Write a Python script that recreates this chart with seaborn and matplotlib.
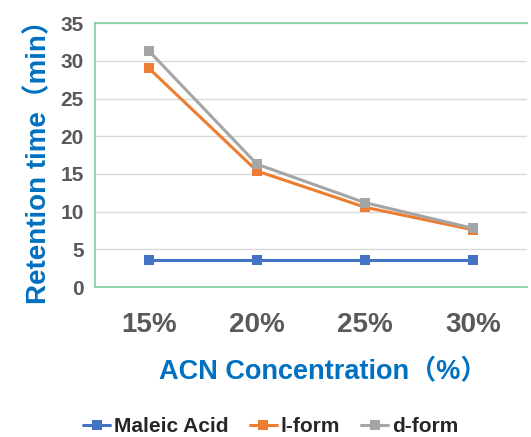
import matplotlib
matplotlib.use('Agg')
import matplotlib.pyplot as plt
import seaborn as sns
import pandas as pd

# data
concentrations = ['15%', '20%', '25%', '30%']
maleic_acid = [3.6, 3.6, 3.6, 3.6]
l_form = [29.0, 15.4, 10.6, 7.6]
d_form = [31.3, 16.3, 11.2, 7.8]
series_names = ['Maleic Acid', 'l-form', 'd-form']
colors = ['#4472C4', '#ED7D31', '#A5A5A5']

df = pd.DataFrame({
    'conc': concentrations * 3,
    'time': maleic_acid + l_form + d_form,
    'series': [s for s in series_names for _ in concentrations],
})

sns.set_style('white')
plt.rcParams['font.family'] = ['Liberation Sans', 'Noto Sans CJK JP', 'DejaVu Sans']

fig = plt.figure(figsize=(5.31, 4.37), dpi=100)
ax = fig.add_axes([0.179, 0.343, 0.813, 0.604])

sns.lineplot(data=df, x='conc', y='time', hue='series', style='series',
             palette=colors, markers=['s', 's', 's'], dashes=False,
             linewidth=2.2, markersize=7, markeredgewidth=0, ax=ax)

ax.set_xlim(-0.5, 3.5)
ax.set_ylim(0, 35)
ax.set_yticks(range(0, 36, 5))
ax.yaxis.grid(True, color='#D9D9D9', linewidth=1)
ax.xaxis.grid(False)
ax.tick_params(axis='both', length=0)
ax.tick_params(axis='y', labelsize=15, labelcolor='#595959', pad=8)
ax.tick_params(axis='x', labelsize=20, labelcolor='#595959', pad=18)
for lbl in ax.get_xticklabels() + ax.get_yticklabels():
    lbl.set_fontweight('bold')

for side in ['left', 'top', 'bottom']:
    ax.spines[side].set_color('#7FCFA0')
    ax.spines[side].set_linewidth(1.2)
ax.spines['right'].set_visible(False)

ax.set_xlabel('ACN Concentration（%）', fontsize=19.5, fontweight='bold',
              color='#0070C0')
ax.xaxis.set_label_coords(0.528, -0.27)
ax.set_ylabel('Retention time（min）', fontsize=20, fontweight='bold',
              color='#0070C0', labelpad=6)

handles, labels = ax.get_legend_handles_labels()
ax.legend_.remove()
leg = fig.legend(handles, labels, loc='center', bbox_to_anchor=(0.51, 0.024),
                 ncol=3, frameon=False, handlelength=1.3, handletextpad=0.2,
                 columnspacing=1.0, prop={'weight': 'bold', 'size': 15})

fig.savefig('out.png', dpi=100)
